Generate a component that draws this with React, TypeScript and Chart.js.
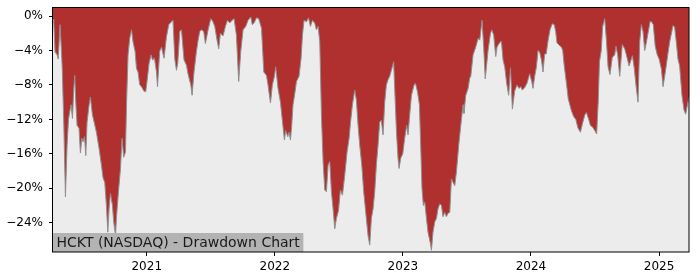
import React, { useEffect, useRef } from "react";
import { Chart, registerables } from "chart.js";

Chart.register(...registerables);

const TITLE = "HCKT (NASDAQ) - Drawdown Chart";

// Dates as decimal years
const dates: number[] = [
  2020.268, 2020.274, 2020.284, 2020.290, 2020.300, 2020.309, 2020.323, 2020.332, 2020.340, 2020.352,
  2020.365, 2020.378, 2020.389, 2020.399, 2020.409, 2020.420, 2020.430, 2020.438, 2020.446, 2020.456,
  2020.471, 2020.482, 2020.493, 2020.503, 2020.514, 2020.524, 2020.534, 2020.550, 2020.560, 2020.576,
  2020.592, 2020.607, 2020.628, 2020.646, 2020.659, 2020.672, 2020.685, 2020.696, 2020.706, 2020.717,
  2020.732, 2020.742, 2020.756, 2020.763, 2020.779, 2020.795, 2020.807, 2020.820, 2020.834, 2020.842,
  2020.854, 2020.867, 2020.881, 2020.893, 2020.909, 2020.920, 2020.932, 2020.945, 2020.959, 2020.977,
  2020.992, 2021.002, 2021.018, 2021.034, 2021.045, 2021.060, 2021.076, 2021.084, 2021.101, 2021.115,
  2021.135, 2021.154, 2021.172, 2021.193, 2021.205, 2021.219, 2021.232, 2021.242, 2021.258, 2021.271,
  2021.291, 2021.310, 2021.322, 2021.344, 2021.354, 2021.369, 2021.388, 2021.401, 2021.414, 2021.427,
  2021.445, 2021.458, 2021.479, 2021.500, 2021.515, 2021.531, 2021.549, 2021.562, 2021.575, 2021.596,
  2021.614, 2021.630, 2021.648, 2021.666, 2021.682, 2021.700, 2021.718, 2021.734, 2021.752, 2021.773,
  2021.791, 2021.812, 2021.824, 2021.838, 2021.857, 2021.874, 2021.896, 2021.914, 2021.935, 2021.947,
  2021.966, 2021.981, 2021.997, 2022.007, 2022.025, 2022.044, 2022.060, 2022.075, 2022.085, 2022.101,
  2022.111, 2022.122, 2022.132, 2022.142, 2022.156, 2022.169, 2022.189, 2022.205, 2022.216, 2022.228,
  2022.247, 2022.263, 2022.278, 2022.294, 2022.312, 2022.325, 2022.338, 2022.351, 2022.364, 2022.377,
  2022.390, 2022.403, 2022.416, 2022.429, 2022.442, 2022.455, 2022.468, 2022.481, 2022.497, 2022.512,
  2022.528, 2022.546, 2022.564, 2022.580, 2022.590, 2022.606, 2022.624, 2022.637, 2022.650, 2022.663,
  2022.679, 2022.694, 2022.710, 2022.728, 2022.741, 2022.754, 2022.767, 2022.780, 2022.793, 2022.806,
  2022.819, 2022.832, 2022.845, 2022.858, 2022.871, 2022.884, 2022.897, 2022.910, 2022.928, 2022.936,
  2022.950, 2022.962, 2022.970, 2022.983, 2022.999, 2023.014, 2023.030, 2023.040, 2023.053, 2023.067,
  2023.087, 2023.098, 2023.114, 2023.129, 2023.139, 2023.149, 2023.160, 2023.171, 2023.184, 2023.196,
  2023.212, 2023.223, 2023.235, 2023.249, 2023.262, 2023.274, 2023.288, 2023.301, 2023.313, 2023.327,
  2023.340, 2023.352, 2023.366, 2023.379, 2023.391, 2023.405, 2023.418, 2023.436, 2023.452, 2023.470,
  2023.477, 2023.491, 2023.509, 2023.522, 2023.530, 2023.548, 2023.569, 2023.587, 2023.600, 2023.618,
  2023.631, 2023.643, 2023.665, 2023.684, 2023.694, 2023.709, 2023.725, 2023.735, 2023.751, 2023.769,
  2023.782, 2023.795, 2023.811, 2023.826, 2023.840, 2023.855, 2023.873, 2023.891, 2023.907, 2023.920,
  2023.933, 2023.951, 2023.969, 2023.990, 2024.006, 2024.016, 2024.029, 2024.043, 2024.055, 2024.068,
  2024.082, 2024.094, 2024.107, 2024.119, 2024.133, 2024.149, 2024.166, 2024.182, 2024.193, 2024.203,
  2024.221, 2024.238, 2024.248, 2024.260, 2024.277, 2024.291, 2024.316, 2024.334, 2024.350, 2024.367,
  2024.386, 2024.402, 2024.420, 2024.433, 2024.451, 2024.464, 2024.482, 2024.498, 2024.513, 2024.525,
  2024.535, 2024.549, 2024.560, 2024.576, 2024.589, 2024.602, 2024.617, 2024.635, 2024.654, 2024.664,
  2024.677, 2024.693, 2024.713, 2024.732, 2024.745, 2024.766, 2024.792, 2024.806, 2024.822, 2024.836,
  2024.849, 2024.862, 2024.875, 2024.888, 2024.902, 2024.914, 2024.931, 2024.943, 2024.955, 2024.970,
  2024.986, 2025.001, 2025.019, 2025.031, 2025.044, 2025.058, 2025.070, 2025.083, 2025.097, 2025.109,
  2025.122, 2025.136, 2025.148, 2025.161, 2025.179, 2025.195, 2025.208, 2025.222, 2025.234,
];

// Drawdown in percent
const drawdown: number[] = [
  -0.4, -0.7, -4.2, -4.3, -4.5, -5.0, -1.0, -3.5, -6.0, -12.3,
  -21.0, -15.0, -12.0, -11.1, -10.3, -11.9, -8.5, -6.9, -10.0, -12.7,
  -13.0, -15.9, -14.2, -14.6, -14.0, -16.2, -12.3, -10.3, -9.4, -11.5,
  -12.5, -13.5, -15.4, -17.3, -18.8, -19.3, -22.0, -25.1, -22.3, -20.6,
  -22.0, -23.9, -25.5, -23.5, -20.4, -17.7, -14.2, -16.4, -15.8, -10.3,
  -4.5, -2.6, -1.6, -3.0, -4.1, -6.1, -6.5, -8.0, -8.2, -8.7,
  -8.8, -7.6, -5.5, -4.5, -5.1, -4.9, -6.5, -8.2, -4.1, -3.6,
  -4.9, -2.4, -1.0, -0.66, -0.5, -5.0, -6.3, -5.5, -1.8, -1.6,
  -5.1, -5.7, -6.7, -8.0, -9.2, -6.5, -4.1, -2.8, -1.8, -1.6,
  -1.8, -3.2, -1.6, -0.3, -0.6, -1.2, -2.8, -3.8, -2.0, -2.3,
  -1.2, -0.5, -0.8, -0.5, -0.3, -2.2, -7.6, -4.1, -1.6, -1.2,
  -0.5, -0.1, -1.0, -0.8, -0.2, -0.3, -1.4, -6.5, -6.9, -8.0,
  -10.1, -8.0, -7.0, -5.9, -8.4, -10.0, -12.3, -14.4, -13.3, -14.0,
  -13.5, -14.4, -12.7, -10.3, -9.0, -7.6, -7.0, -4.9, -2.2, -0.5,
  -0.66, -0.2, -1.2, -0.5, -0.85, -1.6, -1.2, -3.0, -11.5, -16.9,
  -20.2, -20.4, -17.3, -16.9, -20.4, -22.4, -24.7, -23.5, -22.6, -20.2,
  -20.8, -18.5, -15.8, -14.2, -12.5, -10.3, -8.6, -9.8, -12.7, -15.0,
  -17.3, -20.4, -22.8, -25.5, -26.6, -23.5, -22.4, -20.4, -17.3, -15.0,
  -12.3, -12.1, -13.8, -10.0, -8.0, -7.4, -7.0, -6.3, -5.3, -8.4,
  -13.5, -16.5, -17.7, -16.5, -16.0, -14.2, -12.7, -13.8, -11.5, -9.2,
  -8.0, -7.8, -8.8, -10.3, -15.0, -20.0, -22.0, -21.6, -23.5, -25.1,
  -26.2, -27.2, -25.1, -23.9, -23.5, -22.4, -21.8, -22.0, -23.3, -22.8,
  -23.3, -22.9, -22.8, -18.9, -19.3, -19.7, -18.1, -15.0, -12.7, -10.3,
  -11.3, -9.2, -8.4, -7.2, -7.0, -4.5, -3.6, -2.6, -2.8, -0.5,
  -3.6, -7.3, -4.0, -2.0, -1.6, -2.2, -4.7, -3.6, -3.2, -2.9,
  -5.1, -5.9, -7.9, -9.2, -6.0, -10.8, -8.7, -8.0, -8.4, -8.2,
  -8.6, -8.3, -7.8, -6.7, -7.6, -8.4, -7.0, -5.9, -4.0, -4.2,
  -5.1, -6.5, -4.4, -4.4, -2.9, -1.6, -0.9, -1.0, -1.8, -3.1,
  -3.4, -3.6, -4.0, -5.8, -7.8, -9.6, -11.0, -11.7, -12.0, -13.0,
  -13.5, -12.5, -11.5, -11.2, -12.0, -12.7, -12.9, -13.3, -13.7, -10.0,
  -5.3, -4.0, -1.2, -0.3, -2.8, -5.9, -6.8, -4.8, -4.5, -3.5,
  -4.5, -7.0, -3.3, -3.8, -4.5, -5.8, -4.6, -6.0, -8.3, -10.0,
  -3.0, -1.0, -1.8, -4.0, -3.0, -2.0, -0.6, -0.7, -1.0, -3.5,
  -4.5, -5.0, -6.2, -8.2, -7.0, -5.6, -4.3, -3.0, -2.0, -1.1,
  -1.3, -3.2, -5.0, -5.8, -9.2, -10.9, -11.4, -10.3, -9.4,
];

const xTickYears: number[] = [2021, 2022, 2023, 2024, 2025];
const yTickValues: number[] = [0, -4, -8, -12, -16, -20, -24];

const X_MIN = 2020.268;
const X_MAX = 2025.234;
const Y_MIN = -27.4;
const Y_MAX = 1.05;

const FONT = "'DejaVu Sans', sans-serif";

const framePlugin = {
  id: "frameAndTitle",
  beforeDraw(chart: any) {
    const { ctx, chartArea: a } = chart;
    ctx.save();
    ctx.fillStyle = "#ececec";
    ctx.fillRect(a.left, a.top, a.right - a.left, a.bottom - a.top);
    ctx.restore();
  },
  afterDraw(chart: any) {
    const { ctx, chartArea: a } = chart;
    ctx.save();
    // title box
    ctx.font = `14px ${FONT}`;
    const tw = ctx.measureText(TITLE).width;
    const boxH = 19;
    ctx.fillStyle = "#b3b3b3";
    ctx.fillRect(a.left, a.bottom - boxH, tw + 7, boxH);
    ctx.fillStyle = "#1a1a1a";
    ctx.textBaseline = "alphabetic";
    ctx.textAlign = "left";
    ctx.fillText(TITLE, a.left + 3.5, a.bottom - 5);
    // frame
    ctx.strokeStyle = "#000";
    ctx.lineWidth = 1;
    ctx.strokeRect(a.left - 0.5, a.top + 0.5, a.right - a.left + 0.5, a.bottom - a.top - 0.5);
    ctx.restore();
  },
};

export default function App() {
  const ref = useRef<HTMLCanvasElement | null>(null);

  useEffect(() => {
    if (!ref.current) return;
    const points = dates.map((d, i) => ({ x: d, y: drawdown[i] }));
    const chart = new Chart(ref.current, {
      type: "line",
      data: {
        datasets: [
          {
            data: points,
            borderColor: "#8f8f8f",
            borderWidth: 1,
            backgroundColor: "#b03030",
            fill: "end",
            pointRadius: 0,
            tension: 0,
          },
        ],
      },
      options: {
        animation: false,
        responsive: false,
        maintainAspectRatio: false,
        layout: { padding: { top: 7, right: 11, left: 0, bottom: 0 } },
        plugins: {
          legend: { display: false },
          tooltip: { enabled: false },
        },
        scales: {
          x: {
            type: "linear",
            min: X_MIN,
            max: X_MAX,
            afterBuildTicks: (s: any) => {
              s.ticks = xTickYears.map((v) => ({ value: v }));
            },
            afterFit: (s: any) => {
              s.height = 28;
              s.paddingLeft = 0;
              s.paddingRight = 0;
            },
            border: { display: false },
            grid: { display: true, drawOnChartArea: false, drawTicks: true, tickLength: 4, color: "#000" },
            ticks: {
              autoSkip: false,
              maxRotation: 0,
              padding: 4,
              color: "#000",
              font: { family: FONT, size: 12 },
              callback: (v: any) => String(v),
            },
          },
          y: {
            type: "linear",
            min: Y_MIN,
            max: Y_MAX,
            afterBuildTicks: (s: any) => {
              s.ticks = yTickValues.map((v) => ({ value: v }));
            },
            afterFit: (s: any) => {
              s.width = 53;
              s.paddingTop = 0;
              s.paddingBottom = 0;
            },
            border: { display: false },
            grid: { display: true, drawOnChartArea: false, drawTicks: true, tickLength: 4, color: "#000" },
            ticks: {
              padding: 6,
              color: "#000",
              font: { family: FONT, size: 12 },
              callback: (v: any) => (v === 0 ? "0%" : (v < 0 ? "\u2212" : "") + Math.abs(v) + "%"),
            },
          },
        },
      },
      plugins: [framePlugin],
    });
    return () => chart.destroy();
  }, []);

  return (
    <div style={{ position: "fixed", left: 0, top: 0, width: 700, height: 280, background: "#fff" }}>
      <canvas ref={ref} width={700} height={280} style={{ display: "block" }} />
    </div>
  );
}
